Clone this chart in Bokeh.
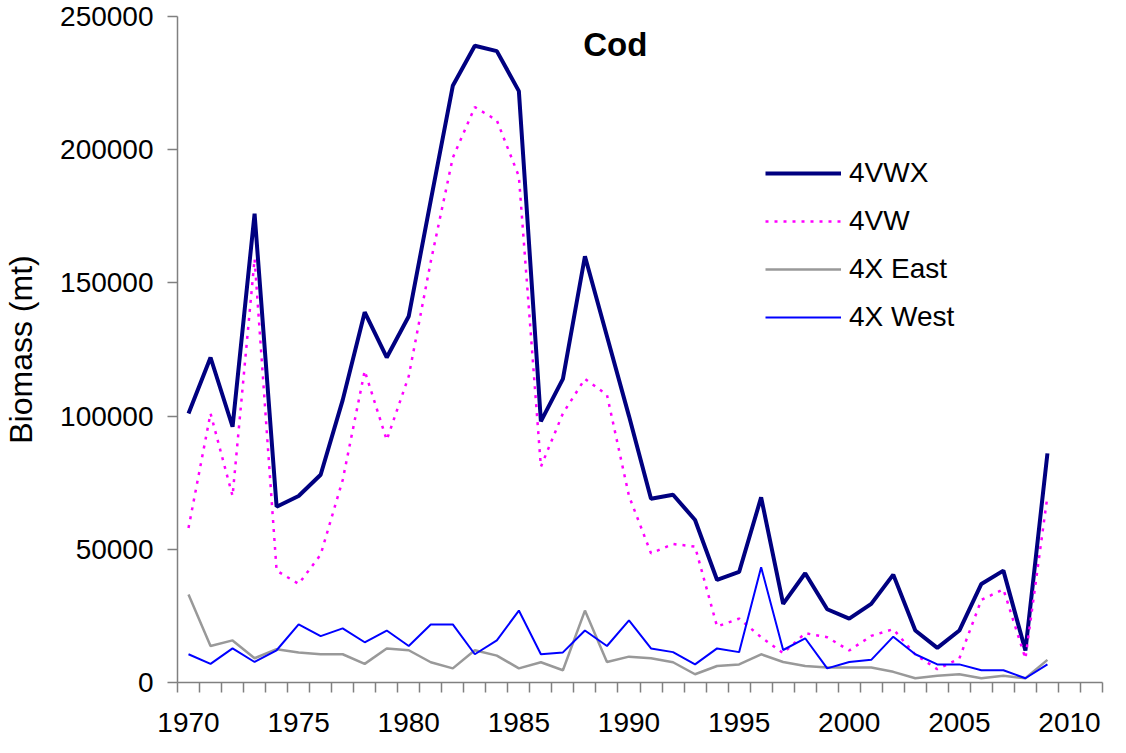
from bokeh.plotting import figure
from bokeh.models import Range1d, FixedTicker, Legend, LegendItem, Label, NumeralTickFormatter
from bokeh.embed import file_html
from bokeh.resources import INLINE

years = list(range(1970, 2010))

vwx = [101000, 122000, 96000, 176000, 66000, 70000, 78000, 106000, 139000, 122000,
       137500, 181000, 224000, 239000, 237000, 222000, 98000, 114000, 160000, 130000,
       100000, 69000, 70500, 61000, 38500, 41500, 69500, 29500, 41000, 27500,
       24000, 29500, 40500, 19500, 13000, 19500, 37000, 42000, 12000, 86000]

vw = [58000, 101000, 70000, 159000, 42000, 37000, 48000, 76000, 117000, 91000,
      115000, 158000, 197000, 216000, 211000, 190000, 81000, 101000, 114000, 108000,
      70000, 48500, 52000, 51000, 21000, 24000, 17000, 11000, 18500, 17000,
      12000, 17500, 20000, 10500, 5000, 9000, 31000, 35000, 9000, 70000]

x_east = [33000, 13700, 15800, 9100, 12500, 11300, 10600, 10600, 7000, 12800,
          12100, 7600, 5300, 12100, 10100, 5300, 7600, 4600, 27000, 7700,
          9700, 9100, 7600, 3100, 6200, 6800, 10600, 7700, 6200, 5600,
          5600, 5600, 4000, 1600, 2500, 3100, 1600, 2500, 1600, 8500]

x_west = [10600, 7000, 12800, 7700, 12100, 21800, 17400, 20300, 15100, 19500,
          13700, 21800, 21800, 10600, 15800, 27000, 10600, 11300, 19500, 13700,
          23300, 12800, 11400, 6800, 12800, 11400, 43300, 12200, 16600, 5300,
          7700, 8500, 17200, 10600, 6800, 6800, 4600, 4600, 1600, 6800]

series_names = ["4VWX", "4VW", "4X East", "4X West"]
x_tick_values = [1970, 1975, 1980, 1985, 1990, 1995, 2000, 2005, 2010]
y_tick_values = [0, 50000, 100000, 150000, 200000, 250000]
x_first, x_last = 1970, 2011

FONT = "Liberation Sans"

p = figure(width=1110, height=745, output_backend="svg", toolbar_location=None,
           x_range=Range1d(x_first - 0.5, x_last + 0.5), y_range=Range1d(0, 250000),
           min_border_left=175, min_border_right=8, min_border_top=16, min_border_bottom=63)
p.outline_line_color = None
p.grid.visible = False
p.background_fill_color = "white"

r1 = p.line(years, vwx, line_color="#000080", line_width=4)
r2 = p.line(years, vw, line_color="#FF00FF", line_width=2.5, line_dash="3 6")
r3 = p.line(years, x_east, line_color="#999999", line_width=2.5)
r4 = p.line(years, x_west, line_color="#0000FF", line_width=2)

# x axis: labels every 5 years, tick marks at category boundaries
boundaries = [x_first - 0.5 + i for i in range(x_last - x_first + 2)]
xa = p.xaxis[0]
xa.ticker = FixedTicker(ticks=x_tick_values, minor_ticks=boundaries)
xa.major_tick_out = 0
xa.major_tick_in = 0
xa.minor_tick_out = 10
xa.minor_tick_in = 0
xa.minor_tick_line_color = "#808080"
xa.minor_tick_line_width = 1.5
xa.axis_line_color = "#808080"
xa.axis_line_width = 1.5
xa.major_label_text_font = FONT
xa.major_label_text_font_size = "28px"
xa.major_label_text_color = "black"
xa.major_label_standoff = 20

ya = p.yaxis[0]
ya.ticker = FixedTicker(ticks=y_tick_values)
ya.formatter = NumeralTickFormatter(format="0")
ya.major_tick_out = 10
ya.major_tick_in = 0
ya.major_tick_line_color = "#808080"
ya.major_tick_line_width = 1.5
ya.minor_tick_line_color = None
ya.axis_line_color = "#808080"
ya.axis_line_width = 1.5
ya.major_label_text_font = FONT
ya.major_label_text_font_size = "28px"
ya.major_label_text_color = "black"
ya.major_label_standoff = 14
ya.axis_label = "Biomass (mt)"
ya.axis_label_text_font = FONT
ya.axis_label_text_font_size = "32px"
ya.axis_label_text_font_style = "normal"
ya.axis_label_text_color = "black"
ya.axis_label_standoff = 18

legend = Legend(items=[LegendItem(label=n, renderers=[r]) for n, r in zip(series_names, [r1, r2, r3, r4])],
                location=(588, 349), padding=0, margin=0, border_line_color=None,
                background_fill_alpha=0, label_text_font=FONT, label_text_font_size="28px",
                label_text_color="black",
                glyph_width=76, glyph_height=32, label_height=32, spacing=16, label_standoff=8)
p.add_layout(legend)

title = Label(x=1989.38, y=239600, text="Cod", text_font=FONT, text_font_size="33px",
              text_font_style="bold", text_align="center", text_baseline="alphabetic", text_color="black")
p.add_layout(title)

open("out.html", "w").write(file_html(p, INLINE))
